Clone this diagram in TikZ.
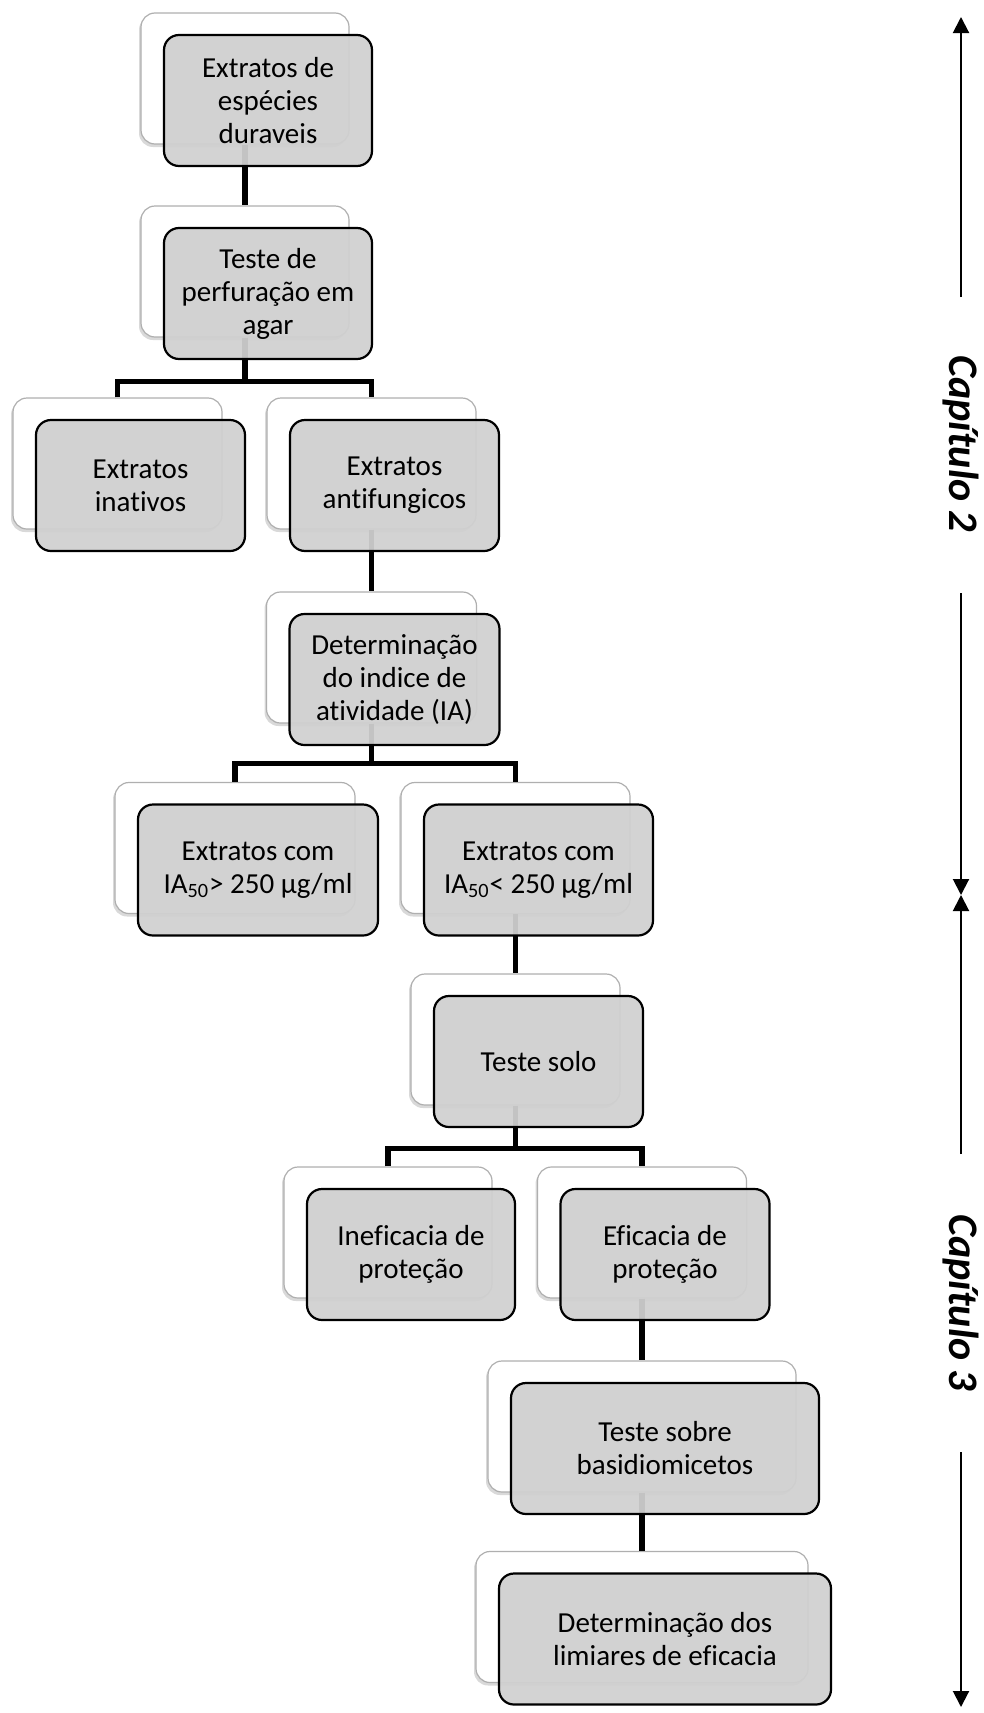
\documentclass[tikz,border=0pt]{standalone}
\usepackage{fontspec}
\setmainfont{Carlito}[Ligatures={NoCommon,NoContextual}]
\usetikzlibrary{shadows,arrows.meta}
\definecolor{boxgray}{RGB}{208,208,208}
\definecolor{backedge}{RGB}{175,175,175}
\tikzset{
  backbox/.style={draw=backedge, line width=0.6pt, fill=white, rounded corners=7pt,
    minimum height=65.5pt, inner sep=0pt,
    drop shadow={shadow xshift=-1pt, shadow yshift=-1.5pt, opacity=0.3}},
  frontbox/.style={draw=black, line width=1.1pt, fill=boxgray, fill opacity=0.94,
    text opacity=1, rounded corners=7.5pt, minimum height=65.5pt, inner sep=0pt,
    align=center, font=\fontsize{14.5}{16.5}\selectfont},
  link/.style={line width=2.8pt, line join=miter},
  axis/.style={line width=1pt, -{Triangle[length=8pt,width=8pt]}},
  chapter/.style={rotate=-90, inner sep=0pt,
    font=\fontsize{21}{25}\selectfont\bfseries\itshape}
}
\begin{document}
\begin{tikzpicture}[x=0.5pt,y=-0.5pt]
\useasboundingbox (0,0) rectangle (984,1713);

% back cards
\node[backbox, minimum width=104pt]   (b1b)  at (245,78.5)    {};
\node[backbox, minimum width=104pt]   (b2b)  at (245,271.5)   {};
\node[backbox, minimum width=104.5pt] (b3b)  at (117.5,463.5) {};
\node[backbox, minimum width=104.5pt] (b4b)  at (371.5,463.5) {};
\node[backbox, minimum width=105pt]   (b5b)  at (371.5,657.5) {};
\node[backbox, minimum width=120pt]   (b6b)  at (235,848)     {};
\node[backbox, minimum width=114.5pt] (b7b)  at (515.5,848)   {};
\node[backbox, minimum width=104.5pt] (b8b)  at (515.5,1039.5){};
\node[backbox, minimum width=104pt]   (b9b)  at (388,1232.5)  {};
\node[backbox, minimum width=104.5pt] (b10b) at (642,1232.5)  {};
\node[backbox, minimum width=154pt]   (b11b) at (642,1426.5)  {};
\node[backbox, minimum width=166pt]   (b12b) at (642,1617)    {};

% connectors
\draw[link] (b1b.south) -- (b2b.north);
\draw[link] (b2b.south) -- ++(0,44) coordinate (j2);
\draw[link] (b3b.north) |- (j2) -| (b4b.north);
\draw[link] (b4b.south) -- (b5b.north);
\draw[link] (b5b.south) -- ++(0,40) coordinate (j5);
\draw[link] (b6b.north) |- (j5) -| (b7b.north);
\draw[link] (b7b.south) -- (b8b.north);
\draw[link] (b8b.south) -- ++(0,43) coordinate (j8);
\draw[link] (b9b.north) |- (j8) -| (b10b.north);
\draw[link] (b10b.south) -- (b11b.north);
\draw[link] (b11b.south) -- (b12b.north);

% front cards
\node[frontbox, minimum width=104pt]   (b1)  at ([shift={(23,22)}]b1b)  {Extratos de\\espécies\\duraveis};
\node[frontbox, minimum width=104pt]   (b2)  at ([shift={(23,22)}]b2b)  {Teste de\\perfuração em\\agar};
\node[frontbox, minimum width=104.5pt] (b3)  at ([shift={(23,22)}]b3b)  {Extratos\\inativos};
\node[frontbox, minimum width=104.5pt] (b4)  at ([shift={(23,22)}]b4b)  {Extratos\\antifungicos};
\node[frontbox, minimum width=105pt]   (b5)  at ([shift={(23,22)}]b5b)  {Determinação\\do indice de\\atividade (IA)};
\node[frontbox, minimum width=120pt]   (b6)  at ([shift={(23,22)}]b6b)  {Extratos com\\IA\textsubscript{50}> 250 µg/ml};
\node[frontbox, minimum width=114.5pt] (b7)  at ([shift={(23,22)}]b7b)  {Extratos com\\IA\textsubscript{50}< 250 µg/ml};
\node[frontbox, minimum width=104.5pt] (b8)  at ([shift={(23,22)}]b8b)  {Teste solo};
\node[frontbox, minimum width=104pt]   (b9)  at ([shift={(23,22)}]b9b)  {Ineficacia de\\proteção};
\node[frontbox, minimum width=104.5pt] (b10) at ([shift={(23,22)}]b10b) {Eficacia de\\proteção};
\node[frontbox, minimum width=154pt]   (b11) at ([shift={(23,22)}]b11b) {Teste sobre\\basidiomicetos};
\node[frontbox, minimum width=166pt]   (b12) at ([shift={(23,22)}]b12b) {Determinação dos\\limiares de eficacia};

% chapter axis
\coordinate (a0) at (961,17);
\coordinate (a1) at (961,297);
\node[chapter] (cap2) at (961,444) {Capítulo 2};
\coordinate (a2) at (961,593);
\coordinate (a3) at (961,895);
\coordinate (a4) at (961,1154);
\node[chapter] (cap3) at (961,1303) {Capítulo 3};
\coordinate (a5) at (961,1452);
\coordinate (a6) at (961,1707);
\draw[axis] (a1) -- (a0);
\draw[axis] (a2) -- (a3);
\draw[axis] (a4) -- (a3);
\draw[axis] (a5) -- (a6);
\end{tikzpicture}
\end{document}
